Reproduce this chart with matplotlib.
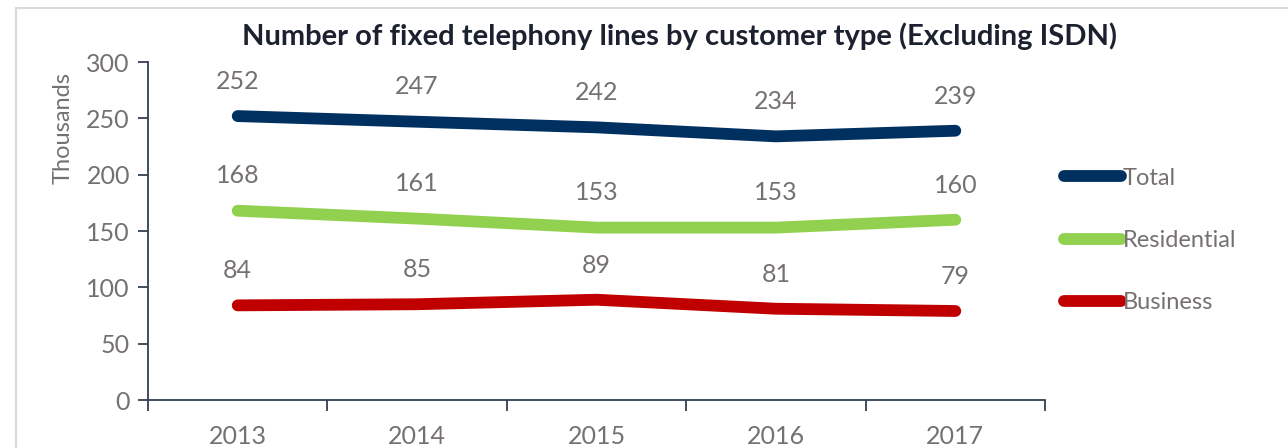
import numpy as np
import matplotlib
matplotlib.use('Agg')
import matplotlib.pyplot as plt
from matplotlib.patches import Rectangle

# data
years = ['2013', '2014', '2015', '2016', '2017']
total = [252, 247, 242, 234, 239]
residential = [168, 161, 153, 153, 160]
business = [84, 85, 89, 81, 79]

series_names = ['Total', 'Residential', 'Business']
series_colors = ['#003060', '#92d050', '#c00000']

grey = '#767171'
plt.rcParams['font.family'] = ['Lato', 'DejaVu Sans']

fig = plt.figure(figsize=(12.88, 4.48), dpi=100)
# light outer frame like the excel chart area
fig.patches.append(Rectangle((16/1288, -0.1), 1.2, 1 - 8/448 + 0.1, transform=fig.transFigure,
                             fill=False, edgecolor='#d9d9d9', linewidth=1.5))

ax = fig.add_axes([148/1288, 48/448, 897/1288, 338/448])
x = np.arange(len(years))

for vals, name, col in zip([total, residential, business], series_names, series_colors):
    ax.plot(x, vals, color=col, linewidth=8.5, solid_capstyle='round', label=name)
    for xi, v in zip(x, vals):
        ax.annotate(str(v), (xi, v), xytext=(0, 25), textcoords='offset points',
                    ha='center', va='center', fontsize=18, color=grey)

ax.set_xlim(-0.5, 4.5)
ax.set_ylim(0, 300)
ax.set_yticks(range(0, 301, 50))
ax.set_xticks(np.arange(-0.5, 5, 1))
ax.set_xticklabels([])
ax.set_xticks(x, minor=True)
ax.set_xticklabels(years, minor=True)
ax.tick_params(axis='x', which='minor', length=0, labelsize=18, labelcolor=grey, pad=18)
ax.tick_params(axis='x', which='major', length=8, color='#333f50', width=1.3)
ax.tick_params(axis='y', length=7, color='#333f50', width=1.3, labelsize=18, labelcolor=grey, pad=6)

for s in ['top', 'right']:
    ax.spines[s].set_visible(False)
for s in ['left', 'bottom']:
    ax.spines[s].set_color('#333f50')
    ax.spines[s].set_linewidth(1.3)

ax.set_ylabel('Thousands', fontsize=17, color=grey, labelpad=8)
ax.yaxis.set_label_coords(-0.083, 0.805)
fig.text(680/1288, 1 - 36/448, 'Number of fixed telephony lines by customer type (Excluding ISDN)',
         ha='center', va='center', fontsize=21, fontweight='bold', color='#1c2130')

leg = ax.legend(loc='upper left', bbox_to_anchor=(0.997, 0.75), frameon=False, fontsize=17,
                labelcolor=grey, handlelength=2.45, handletextpad=0.05, labelspacing=1.75,
                borderaxespad=0.5)

fig.savefig('out.png', dpi=100)
